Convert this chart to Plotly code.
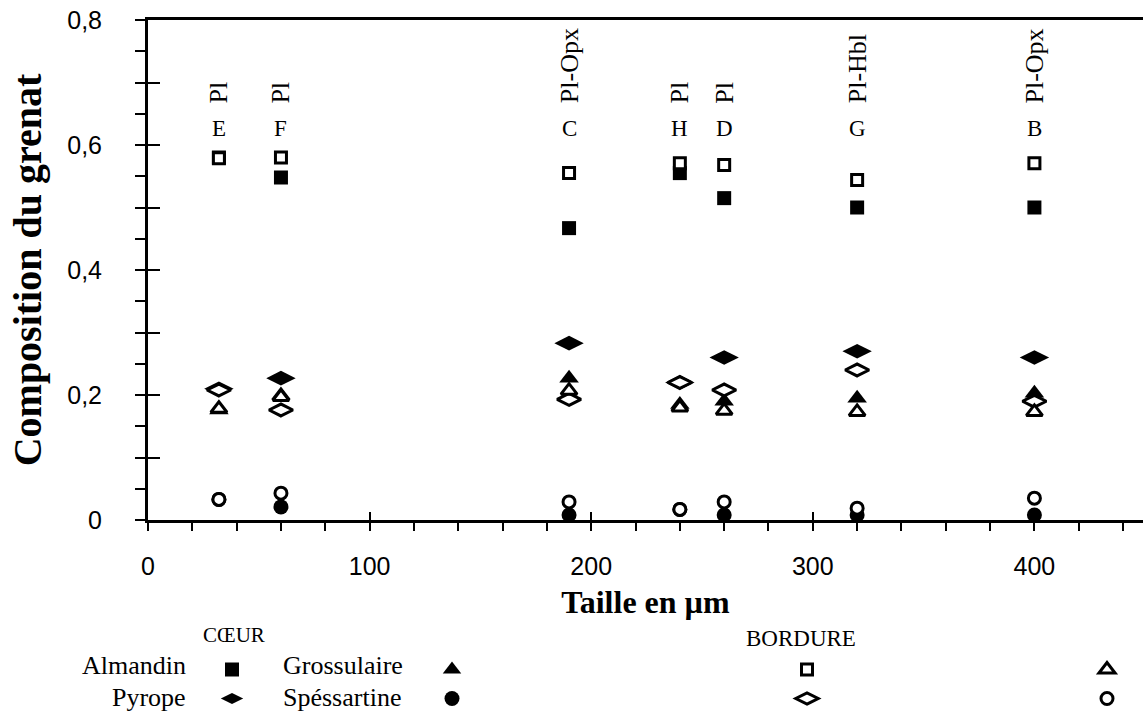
import plotly.graph_objects as go

# ---------------- data ----------------
taille = [32, 60, 190, 240, 260, 320, 400]          # x : Taille en µm
echantillons = ["E", "F", "C", "H", "D", "G", "B"]
assemblages = ["Pl", "Pl", "Pl-Opx", "Pl", "Pl", "Pl-Hbl", "Pl-Opx"]

almandin_coeur = [0.580, 0.548, 0.467, 0.555, 0.515, 0.500, 0.500]
almandin_bord = [0.579, 0.580, 0.555, 0.571, 0.568, 0.544, 0.571]
pyrope_coeur = [0.210, 0.227, 0.283, 0.220, 0.260, 0.270, 0.260]
pyrope_bord = [0.208, 0.176, 0.193, 0.220, 0.208, 0.240, 0.190]
gross_coeur = [0.176, 0.200, 0.227, 0.185, 0.190, 0.195, 0.203]
gross_bord = [0.178, 0.197, 0.207, 0.180, 0.175, 0.173, 0.173]
spess_coeur = [0.033, 0.021, 0.008, 0.017, 0.008, 0.008, 0.008]
spess_bord = [0.033, 0.043, 0.029, 0.017, 0.029, 0.019, 0.035]

x_range = [0, 449]
y_range = [0, 0.8]

# ---------------- layout geometry ----------------
W, H = 1143, 715
L, R, T, B = 148, 0, 20, 195
PW, PH = W - L - R, H - T - B


def px(xp):
    return (xp - L) / PW


def py(yp):
    return (H - B - yp) / PH


SERIF = "Liberation Serif"
SANS = "Liberation Sans"

fig = go.Figure()

series = [
    # name, values, symbol, filled, legend, size
    ("Almandin cœur", almandin_coeur, "square", True, "legend", 14),
    ("Pyrope cœur", pyrope_coeur, "diamond-wide", True, "legend", 21),
    ("Grossulaire cœur", gross_coeur, "triangle-up", True, "legend2", 17),
    ("Spéssartine cœur", spess_coeur, "circle", True, "legend2", 15),
    ("Almandin bordure", almandin_bord, "square", False, "legend3", 11),
    ("Pyrope bordure", pyrope_bord, "diamond-wide", False, "legend3", 17),
    ("Grossulaire bordure", gross_bord, "triangle-up", False, "legend4", 14),
    ("Spéssartine bordure", spess_bord, "circle", False, "legend4", 12),
]

for name, vals, sym, filled, leg, size in series:
    if filled:
        marker = dict(symbol=sym, size=size, color="black", line=dict(width=0))
    else:
        marker = dict(symbol=sym, size=size, color="white",
                      line=dict(color="black", width=3))
    fig.add_trace(go.Scatter(
        x=taille, y=vals, mode="markers", name="", marker=marker,
        legend=leg, showlegend=True, cliponaxis=False,
        hovertemplate=name + ": %{y}<extra></extra>",
    ))

# empty trace on overlay axes carrying the inner ticks
fig.add_trace(go.Scatter(x=[], y=[], xaxis="x2", yaxis="y2",
                         showlegend=False, hoverinfo="skip"))

tickfont = dict(family=SANS, size=25, color="black")

fig.update_layout(
    width=W, height=H,
    margin=dict(l=L, r=R, t=T, b=B, autoexpand=False),
    paper_bgcolor="white", plot_bgcolor="white",
    separators=", ",
    showlegend=True,
    xaxis=dict(
        range=x_range, showline=True, linecolor="black", linewidth=3,
        mirror=True, showgrid=False, zeroline=False,
        ticks="outside", ticklen=8, tickwidth=2, tickcolor="black",
        tick0=0, dtick=100, tickfont=tickfont, ticklabelstandoff=14,
        minor=dict(ticks="outside", dtick=20, ticklen=8, tickwidth=2,
                   tickcolor="black", showgrid=False),
        title=dict(text="<b>Taille en µm</b>",
                   font=dict(family=SERIF, size=32, color="black"),
                   standoff=12),
    ),
    yaxis=dict(
        range=y_range, showline=True, linecolor="black", linewidth=3,
        showgrid=False, zeroline=False,
        ticks="outside", ticklen=10, tickwidth=2, tickcolor="black",
        tick0=0, dtick=0.2, tickfont=tickfont, ticklabelstandoff=28,
        minor=dict(ticks="outside", dtick=0.05, ticklen=10, tickwidth=2,
                   tickcolor="black", showgrid=False),
        title=dict(text="<b>Composition du grenat</b>",
                   font=dict(family=SERIF, size=40, color="black"),
                   standoff=14),
    ),
    xaxis2=dict(
        range=x_range, overlaying="x", anchor="y2", side="bottom",
        showline=False, showgrid=False, zeroline=False,
        ticks="inside", ticklen=8, tickwidth=2, tickcolor="black",
        tick0=0, dtick=100, showticklabels=False,
    ),
    yaxis2=dict(
        range=y_range, overlaying="y", anchor="x2", side="left",
        showline=False, showgrid=False, zeroline=False,
        ticks="inside", ticklen=12, tickwidth=2, tickcolor="black",
        tick0=0, dtick=0.1, showticklabels=False,
    ),
)

leg_common = dict(orientation="v", xanchor="left", yanchor="top",
                  bgcolor="rgba(0,0,0,0)", borderwidth=0,
                  font=dict(family=SERIF, size=20, color="black"),
                  itemwidth=30, tracegroupgap=0)
fig.update_layout(
    legend=dict(x=px(233 - 21), y=py(650), **leg_common),
    legend2=dict(x=px(453 - 21), y=py(650), **leg_common),
    legend3=dict(x=px(808 - 21), y=py(650), **leg_common),
    legend4=dict(x=px(1108 - 21), y=py(650), **leg_common),
)

# sample letters and assemblages
for xv, lab, asm in zip(taille, echantillons, assemblages):
    fig.add_annotation(x=xv, y=0.627, xref="x", yref="y", text=lab,
                       showarrow=False, xanchor="center", yanchor="middle",
                       font=dict(family=SERIF, size=23, color="black"))
    fig.add_annotation(x=xv, y=0.663, xref="x", yref="y", text=asm,
                       textangle=-90, showarrow=False, xanchor="center",
                       yanchor="bottom",
                       font=dict(family=SERIF, size=26, color="black"))

# legend captions
cap_font = dict(family=SERIF, size=26, color="black")
captions = [
    ("CŒUR", 234, 635, "center", dict(family=SERIF, size=21, color="black")),
    ("BORDURE", 801, 638, "center", dict(family=SERIF, size=23, color="black")),
    ("Almandin", 188, 665, "right", cap_font),
    ("Pyrope", 188, 697, "right", cap_font),
    ("Grossulaire", 281, 665, "left", cap_font),
    ("Spéssartine", 281, 697, "left", cap_font),
]
for txt, xp_, yp_, anc, f in captions:
    fig.add_annotation(x=px(xp_), y=py(yp_), xref="paper", yref="paper",
                       text=txt, showarrow=False, xanchor=anc,
                       yanchor="middle", font=f)

fig.write_html(
    "out.html",
    config={"displayModeBar": False},
    post_script="document.body.style.margin='0px';"
                "document.body.style.overflow='hidden';",
)
